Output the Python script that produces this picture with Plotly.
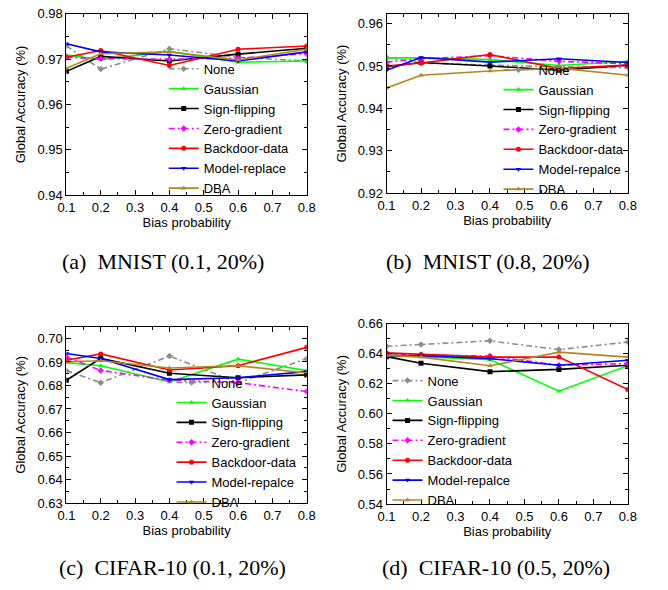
import plotly.graph_objects as go

BIAS = [0.1, 0.2, 0.4, 0.6, 0.8]

NAMES_A = ["None", "Gaussian", "Sign-flipping", "Zero-gradient",
           "Backdoor-data", "Model-replace", "DBA"]
NAMES_BCD = ["None", "Gaussian", "Sign-flipping", "Zero-gradient",
             "Backdoor-data", "Model-repalce", "DBA"]

# (a) MNIST (0.1, 20%)
a_none = [0.9729, 0.9678, 0.9723, 0.9704, 0.9696]
a_gauss = [0.9709, 0.9699, 0.9717, 0.9693, 0.9696]
a_sign = [0.9673, 0.9706, 0.9696, 0.9711, 0.9724]
a_zero = [0.9704, 0.9701, 0.9700, 0.9702, 0.9712]
a_backdoor = [0.9704, 0.9719, 0.9686, 0.9722, 0.9729]
a_model = [0.9734, 0.9716, 0.9709, 0.9696, 0.9716]
a_dba = [0.9680, 0.9712, 0.9716, 0.9698, 0.9722]

# (b) MNIST (0.8, 20%)
b_none = [0.9520, 0.9507, 0.9502, 0.9498, 0.9496]
b_gauss = [0.9519, 0.9519, 0.9515, 0.9501, 0.9511]
b_sign = [0.9498, 0.9508, 0.9500, 0.9490, 0.9502]
b_zero = [0.9509, 0.9517, 0.9524, 0.9511, 0.9505]
b_backdoor = [0.9500, 0.9507, 0.9527, 0.9494, 0.9502]
b_model = [0.9490, 0.9520, 0.9509, 0.9517, 0.9508]
b_dba = [0.9448, 0.9478, 0.9488, 0.9495, 0.9478]

# (c) CIFAR-10 (0.1, 20%)
c_none = [0.6863, 0.6812, 0.6925, 0.6812, 0.6914]
c_gauss = [0.6897, 0.6884, 0.6815, 0.6912, 0.6863]
c_sign = [0.6822, 0.6915, 0.6852, 0.6833, 0.6845]
c_zero = [0.6921, 0.6864, 0.6822, 0.6812, 0.6774]
c_backdoor = [0.6907, 0.6934, 0.6866, 0.6884, 0.6962]
c_model = [0.6936, 0.6915, 0.6825, 0.6833, 0.6859]
c_dba = [0.6901, 0.6905, 0.6874, 0.6884, 0.6853]

# (d) CIFAR-10 (0.5, 20%)
d_none = [0.6450, 0.6461, 0.6486, 0.6428, 0.6478]
d_gauss = [0.6396, 0.6381, 0.6361, 0.6151, 0.6320]
d_sign = [0.6381, 0.6337, 0.6281, 0.6296, 0.6324]
d_zero = [0.6400, 0.6391, 0.6385, 0.6324, 0.6335]
d_backdoor = [0.6406, 0.6396, 0.6378, 0.6378, 0.6162]
d_model = [0.6381, 0.6387, 0.6368, 0.6324, 0.6357]
d_dba = [0.6389, 0.6378, 0.6320, 0.6411, 0.6378]

CAPTIONS = ["(a)\u00a0 MNIST (0.1, 20%)", "(b)\u00a0 MNIST (0.8, 20%)",
            "(c)\u00a0 CIFAR-10 (0.1, 20%)", "(d)\u00a0 CIFAR-10 (0.5, 20%)"]

COLORS = ["#8c8c8c", "#00ff00", "#000000", "#ff00ff", "#ff0000", "#0000ff", "#b5861e"]
SYMBOLS = ["diamond", "triangle-up", "square", "diamond", "circle", "triangle-down", "triangle-up"]
DASHES = ["6px,3px,2px,3px", "solid", "solid", "6px,3px,2px,3px", "solid", "solid", "solid"]

W, H = 668, 590

panels = [
    dict(data=[a_none, a_gauss, a_sign, a_zero, a_backdoor, a_model, a_dba], names=NAMES_A,
         px=(59, 306), py=(7, 193), yr=[0.94, 0.98], dt=0.01, mdt=0.005, fmt=".2f",
         leg=(159, 48)),
    dict(data=[b_none, b_gauss, b_sign, b_zero, b_backdoor, b_model, b_dba], names=NAMES_BCD,
         px=(388, 636), py=(7, 191), yr=[0.92, 0.9623], dt=0.01, mdt=0.005, fmt=".2f",
         leg=(503, 49)),
    dict(data=[c_none, c_gauss, c_sign, c_zero, c_backdoor, c_model, c_dba], names=NAMES_BCD,
         px=(59, 306), py=(328, 509), yr=[0.63, 0.705], dt=0.01, mdt=0.005, fmt=".2f",
         leg=(167, 370)),
    dict(data=[d_none, d_gauss, d_sign, d_zero, d_backdoor, d_model, d_dba], names=NAMES_BCD,
         px=(388, 636), py=(325, 510), yr=[0.54, 0.66], dt=0.02, mdt=0.01, fmt=".2f",
         leg=(389, 368)),
]

fig = go.Figure()
layout = dict(width=W, height=H, margin=dict(l=0, r=0, t=0, b=0),
              paper_bgcolor="white", plot_bgcolor="white", showlegend=True,
              font=dict(family="Liberation Sans, Arial", size=13, color="black"))

FONT = dict(family="Liberation Sans, Arial", size=13, color="black")

for i, p in enumerate(panels):
    k = "" if i == 0 else str(i + 1)
    legname = "legend" if i == 0 else "legend" + str(i + 1)
    for j, ys in enumerate(p["data"]):
        fig.add_trace(go.Scatter(
            x=BIAS, y=ys, name=p["names"][j], mode="lines+markers",
            xaxis="x" + k, yaxis="y" + k, legend=legname,
            line=dict(color=COLORS[j], width=1.6, dash=DASHES[j]),
            marker=dict(symbol=SYMBOLS[j], size=5, color=COLORS[j]),
        ))
    axcommon = dict(showline=True, linecolor="black", linewidth=1, mirror="ticks",
                    ticks="inside", ticklen=5, tickcolor="black", showgrid=False,
                    zeroline=False, tickfont=FONT)
    layout["xaxis" + k] = dict(
        axcommon, domain=[p["px"][0] / W, p["px"][1] / W], anchor="y" + k,
        range=[0.1, 0.8], dtick=0.1, tick0=0.1, tickformat=".1f",
        minor=dict(dtick=0.05, ticks="inside", ticklen=3, tickcolor="black"),
        title=dict(text="Bias probability", font=FONT, standoff=0))
    layout["yaxis" + k] = dict(
        axcommon, domain=[1 - p["py"][1] / H, 1 - p["py"][0] / H], anchor="x" + k,
        range=p["yr"], dtick=p["dt"], tick0=p["yr"][0], tickformat=p["fmt"],
        minor=dict(dtick=p["mdt"], ticks="inside", ticklen=3, tickcolor="black"),
        title=dict(text="Global Accuracy (%)", font=FONT, standoff=8))
    layout[legname] = dict(x=p["leg"][0] / W, y=1 - p["leg"][1] / H,
                           xanchor="left", yanchor="top",
                           bgcolor="rgba(0,0,0,0)", borderwidth=0,
                           font=dict(family="Liberation Sans, Arial", size=13, color="black"),
                           tracegroupgap=0)

cap_pos = [(158, 261), (492, 261), (168, 575), (500, 575)]
annotations = []
for i, c in enumerate(CAPTIONS):
    annotations.append(dict(text=c, x=cap_pos[i][0] / W, y=1 - cap_pos[i][1] / H,
                            xref="paper", yref="paper", showarrow=False,
                            xanchor="center", yanchor="middle",
                            font=dict(family="Liberation Serif, Times New Roman", size=22,
                                      color="black")))
layout["annotations"] = annotations

fig.update_layout(**layout)
fig.write_html("out.html")
